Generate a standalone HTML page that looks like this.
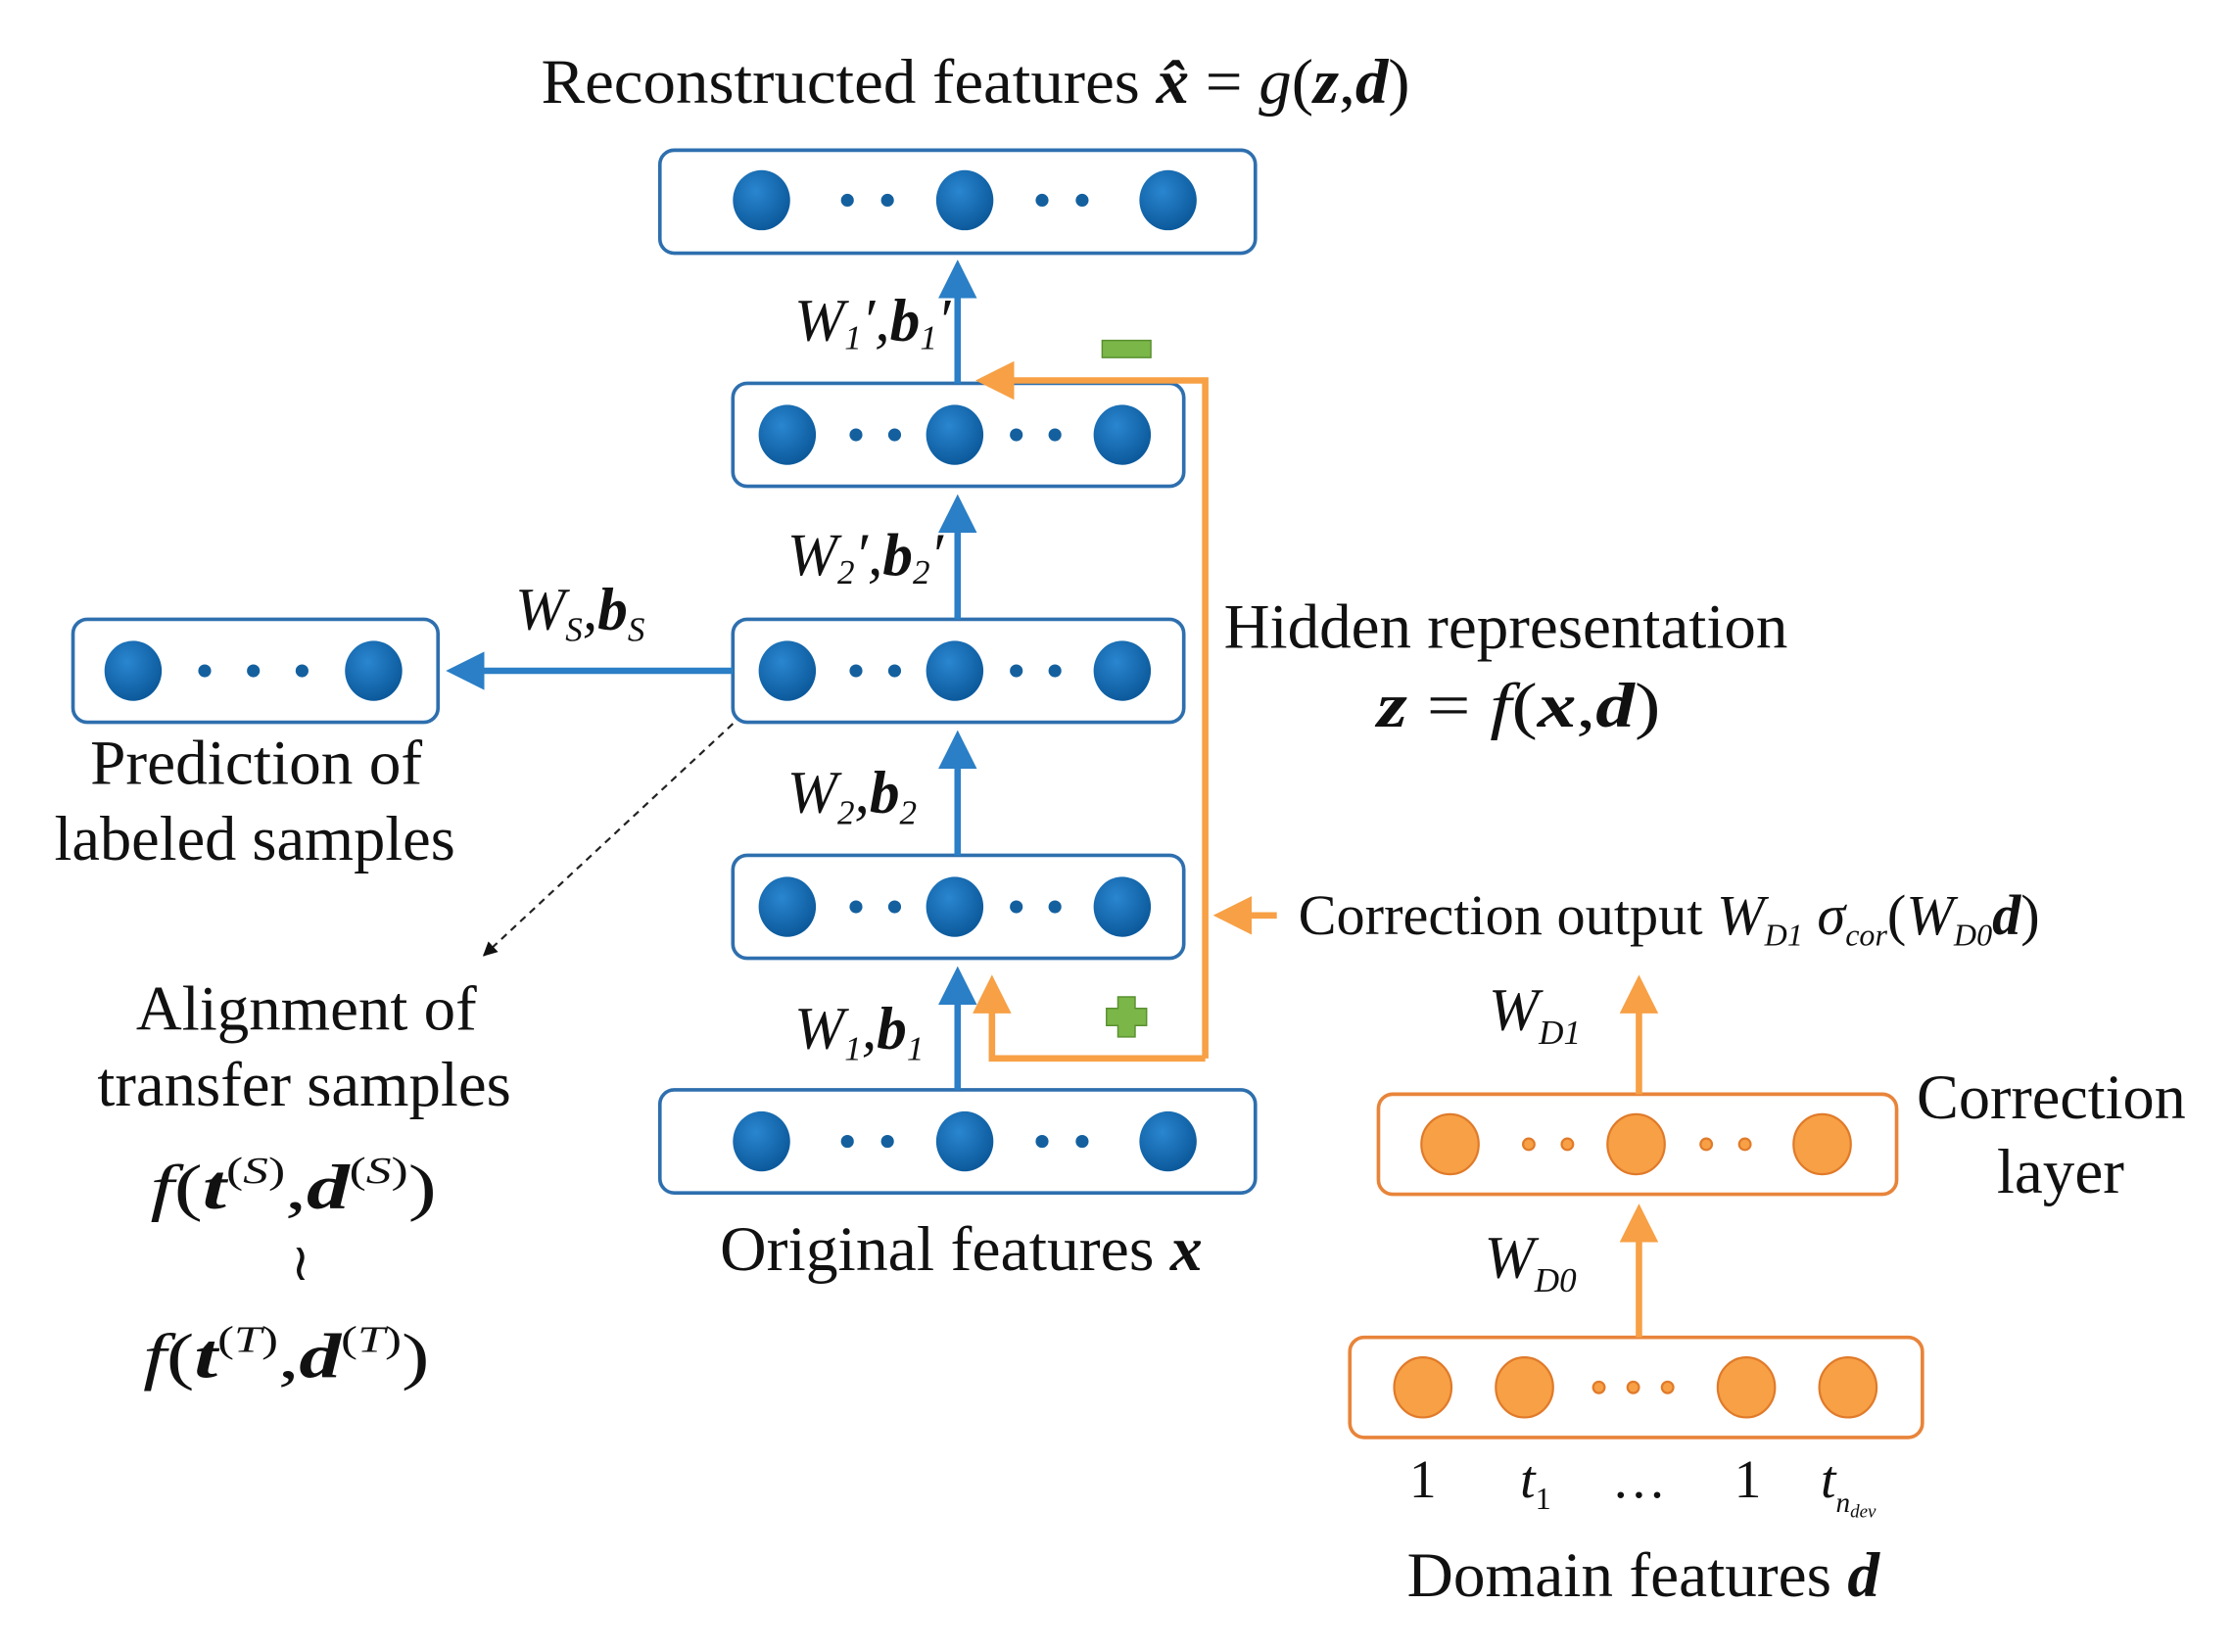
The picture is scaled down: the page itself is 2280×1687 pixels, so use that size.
<!DOCTYPE html>
<html><head><meta charset="utf-8"><style>
html,body{margin:0;padding:0;background:#fff;}
svg{display:block;}
text{font-family:"Liberation Serif",serif;fill:#111;}
.it{font-style:italic;}
.b{font-weight:bold;font-style:italic;}
</style></head><body>
<svg width="2280" height="1687" viewBox="0 0 1560 1155" preserveAspectRatio="none" xmlns="http://www.w3.org/2000/svg">
<defs>
<radialGradient id="bg" cx="40%" cy="35%" r="65%"><stop offset="0" stop-color="#2a86d0"/><stop offset="1" stop-color="#0c5a9c"/></radialGradient>
<marker id="ab" markerWidth="6" markerHeight="6" refX="5" refY="3" orient="auto" markerUnits="strokeWidth"><path d="M0,0 L6,3 L0,6 Z" fill="#2a7fc6"/></marker>
<marker id="ao" markerWidth="6" markerHeight="6" refX="5" refY="3" orient="auto" markerUnits="strokeWidth"><path d="M0,0 L6,3 L0,6 Z" fill="#f7a045"/></marker>
<marker id="ad" markerWidth="10" markerHeight="10" refX="9" refY="5" orient="auto" markerUnits="userSpaceOnUse"><path d="M0,0 L10,5 L0,10 Z" fill="#111"/></marker>
</defs>

<g fill="#fff" stroke="#2e6fae" stroke-width="2.5">
<rect x="461" y="105" width="416" height="72" rx="10"/>
<rect x="512" y="268" width="315" height="72" rx="10"/>
<rect x="512" y="433" width="315" height="72" rx="10"/>
<rect x="512" y="598" width="315" height="72" rx="10"/>
<rect x="461" y="762" width="416" height="72" rx="10"/>
<rect x="51" y="433" width="255" height="72" rx="10"/>
</g>
<g fill="url(#bg)">
<ellipse cx="532" cy="140" rx="20" ry="21"/><ellipse cx="674" cy="140" rx="20" ry="21"/><ellipse cx="816" cy="140" rx="20" ry="21"/>
<ellipse cx="550" cy="304" rx="20" ry="21"/><ellipse cx="667" cy="304" rx="20" ry="21"/><ellipse cx="784" cy="304" rx="20" ry="21"/>
<ellipse cx="550" cy="469" rx="20" ry="21"/><ellipse cx="667" cy="469" rx="20" ry="21"/><ellipse cx="784" cy="469" rx="20" ry="21"/>
<ellipse cx="550" cy="634" rx="20" ry="21"/><ellipse cx="667" cy="634" rx="20" ry="21"/><ellipse cx="784" cy="634" rx="20" ry="21"/>
<ellipse cx="532" cy="798" rx="20" ry="21"/><ellipse cx="674" cy="798" rx="20" ry="21"/><ellipse cx="816" cy="798" rx="20" ry="21"/>
<ellipse cx="93" cy="469" rx="20" ry="21"/><ellipse cx="261" cy="469" rx="20" ry="21"/>
</g>
<g fill="#14609f">
<circle cx="592" cy="140" r="4.5"/><circle cx="620" cy="140" r="4.5"/><circle cx="728" cy="140" r="4.5"/><circle cx="756" cy="140" r="4.5"/>
<circle cx="598" cy="304" r="4.5"/><circle cx="625" cy="304" r="4.5"/><circle cx="710" cy="304" r="4.5"/><circle cx="737" cy="304" r="4.5"/>
<circle cx="598" cy="469" r="4.5"/><circle cx="625" cy="469" r="4.5"/><circle cx="710" cy="469" r="4.5"/><circle cx="737" cy="469" r="4.5"/>
<circle cx="598" cy="634" r="4.5"/><circle cx="625" cy="634" r="4.5"/><circle cx="710" cy="634" r="4.5"/><circle cx="737" cy="634" r="4.5"/>
<circle cx="592" cy="798" r="4.5"/><circle cx="620" cy="798" r="4.5"/><circle cx="728" cy="798" r="4.5"/><circle cx="756" cy="798" r="4.5"/>
<circle cx="143" cy="469" r="4.5"/><circle cx="177" cy="469" r="4.5"/><circle cx="211" cy="469" r="4.5"/>
</g>
<g stroke="#2a7fc6" stroke-width="4.5" marker-end="url(#ab)">
<line x1="669" y1="762" x2="669" y2="680"/>
<line x1="669" y1="598" x2="669" y2="515"/>
<line x1="669" y1="433" x2="669" y2="350"/>
<line x1="669" y1="268" x2="669" y2="186"/>
<line x1="512" y1="469" x2="316" y2="469"/>
</g>
<line x1="512" y1="506" x2="338" y2="668" stroke="#222" stroke-width="1.5" stroke-dasharray="5,4" marker-end="url(#ad)"/>

<g fill="none" stroke="#f7a045" stroke-width="4.5">
<polyline points="842,740 842,266 686,266" marker-end="url(#ao)"/>
<polyline points="842,740 693,740 693,686" marker-end="url(#ao)"/>
<line x1="892" y1="640" x2="852" y2="640" marker-end="url(#ao)"/>
</g>
<rect x="770" y="238" width="34" height="12" fill="#7ab648" stroke="#5a9030" stroke-width="1"/>
<path d="M781,697 h12 v8 h8 v12 h-8 v8 h-12 v-8 h-8 v-12 h8 z" fill="#7ab648" stroke="#5a9030" stroke-width="1"/>

<g fill="#fff" stroke="#e8843a" stroke-width="2.5">
<rect x="963" y="765" width="362" height="70" rx="10"/>
<rect x="943" y="935" width="400" height="70" rx="10"/>
</g>
<g fill="#f7a045" stroke="#e07a2a" stroke-width="1.5">
<ellipse cx="1013" cy="800" rx="20" ry="21"/><ellipse cx="1143" cy="800" rx="20" ry="21"/><ellipse cx="1273" cy="800" rx="20" ry="21"/>
<ellipse cx="994" cy="970" rx="20" ry="21"/><ellipse cx="1065" cy="970" rx="20" ry="21"/><ellipse cx="1220" cy="970" rx="20" ry="21"/><ellipse cx="1291" cy="970" rx="20" ry="21"/>
<circle cx="1068" cy="800" r="4"/><circle cx="1095" cy="800" r="4"/><circle cx="1192" cy="800" r="4"/><circle cx="1219" cy="800" r="4"/>
<circle cx="1117" cy="970" r="4"/><circle cx="1141" cy="970" r="4"/><circle cx="1165" cy="970" r="4"/>
</g>
<g stroke="#f7a045" stroke-width="4.5" marker-end="url(#ao)">
<line x1="1145" y1="935" x2="1145" y2="846"/>
<line x1="1145" y1="765" x2="1145" y2="686"/>
</g>

<text x="378" y="72" font-size="44" textLength="607" lengthAdjust="spacingAndGlyphs">Reconstructed features <tspan class="b">x̂</tspan> = <tspan class="it">g</tspan>(<tspan class="b">z</tspan>,<tspan class="b">d</tspan>)</text>
<text x="555" y="238" font-size="42" class="it">W<tspan font-size="24" dy="6">1</tspan><tspan dy="-6">′</tspan>,<tspan class="b">b</tspan><tspan font-size="24" dy="6">1</tspan><tspan dy="-6">′</tspan></text>
<text x="550" y="402" font-size="42" class="it">W<tspan font-size="24" dy="6">2</tspan><tspan dy="-6">′</tspan>,<tspan class="b">b</tspan><tspan font-size="24" dy="6">2</tspan><tspan dy="-6">′</tspan></text>
<text x="550" y="568" font-size="42" class="it">W<tspan font-size="24" dy="8">2</tspan><tspan dy="-8">,</tspan><tspan class="b">b</tspan><tspan font-size="24" dy="8">2</tspan></text>
<text x="555" y="733" font-size="42" class="it">W<tspan font-size="24" dy="8">1</tspan><tspan dy="-8">,</tspan><tspan class="b">b</tspan><tspan font-size="24" dy="8">1</tspan></text>
<text x="360" y="440" font-size="42" class="it">W<tspan font-size="24" dy="8">S</tspan><tspan dy="-8">,</tspan><tspan class="b">b</tspan><tspan font-size="24" dy="8">S</tspan></text>
<text x="63" y="548" font-size="44" textLength="232" lengthAdjust="spacingAndGlyphs">Prediction of</text>
<text x="38" y="601" font-size="44" textLength="280" lengthAdjust="spacingAndGlyphs">labeled samples</text>
<text x="95" y="720" font-size="44" textLength="238" lengthAdjust="spacingAndGlyphs">Alignment of</text>
<text x="68" y="773" font-size="44" textLength="289" lengthAdjust="spacingAndGlyphs">transfer samples</text>
<text x="105" y="845" font-size="44" class="it" textLength="200" lengthAdjust="spacingAndGlyphs">f<tspan font-style="normal">(</tspan><tspan class="b">t</tspan><tspan font-size="26" dy="-18" font-style="normal">(</tspan><tspan font-size="26">S</tspan><tspan font-size="26" font-style="normal">)</tspan><tspan dy="18" font-style="normal">,</tspan><tspan class="b">d</tspan><tspan font-size="26" dy="-18" font-style="normal">(</tspan><tspan font-size="26">S</tspan><tspan font-size="26" font-style="normal">)</tspan><tspan dy="18" font-style="normal">)</tspan></text>
<text x="210" y="895" font-size="36" text-anchor="middle">≀</text>
<text x="100" y="963" font-size="44" class="it" textLength="200" lengthAdjust="spacingAndGlyphs">f<tspan font-style="normal">(</tspan><tspan class="b">t</tspan><tspan font-size="26" dy="-18" font-style="normal">(</tspan><tspan font-size="26">T</tspan><tspan font-size="26" font-style="normal">)</tspan><tspan dy="18" font-style="normal">,</tspan><tspan class="b">d</tspan><tspan font-size="26" dy="-18" font-style="normal">(</tspan><tspan font-size="26">T</tspan><tspan font-size="26" font-style="normal">)</tspan><tspan dy="18" font-style="normal">)</tspan></text>
<text x="503" y="888" font-size="44" textLength="337" lengthAdjust="spacingAndGlyphs">Original features <tspan class="b">x</tspan></text>
<text x="855" y="453" font-size="44" textLength="394" lengthAdjust="spacingAndGlyphs">Hidden representation</text>
<text x="962" y="508" font-size="44" textLength="198" lengthAdjust="spacingAndGlyphs"><tspan class="b">z</tspan> = <tspan class="it">f</tspan>(<tspan class="b">x</tspan>,<tspan class="b">d</tspan>)</text>
<text x="907" y="653" font-size="40" textLength="518" lengthAdjust="spacingAndGlyphs">Correction output <tspan class="it">W</tspan><tspan class="it" font-size="22" dy="8">D1</tspan><tspan class="it" dy="-8"> σ</tspan><tspan class="it" font-size="22" dy="8">cor</tspan><tspan dy="-8">(</tspan><tspan class="it">W</tspan><tspan class="it" font-size="22" dy="8">D0</tspan><tspan class="b" dy="-8">d</tspan>)</text>
<text x="1040" y="720" font-size="42" class="it">W<tspan font-size="24" dy="10">D1</tspan></text>
<text x="1037" y="893" font-size="42" class="it">W<tspan font-size="24" dy="10">D0</tspan></text>
<text x="1339" y="782" font-size="44" textLength="188" lengthAdjust="spacingAndGlyphs">Correction</text>
<text x="1395" y="834" font-size="44" textLength="89" lengthAdjust="spacingAndGlyphs">layer</text>
<text x="994" y="1047" font-size="38" text-anchor="middle">1</text>
<text x="1062" y="1047" font-size="38" class="it">t<tspan font-size="22" dy="8" font-style="normal">1</tspan></text>
<text x="1145" y="1047" font-size="38" text-anchor="middle">…</text>
<text x="1221" y="1047" font-size="38" text-anchor="middle">1</text>
<text x="1272" y="1047" font-size="38" class="it">t<tspan font-size="20" dy="10">n</tspan><tspan font-size="13" dy="4">dev</tspan></text>
<text x="983" y="1116" font-size="44" textLength="330" lengthAdjust="spacingAndGlyphs">Domain features <tspan class="b">d</tspan></text>
</svg>
</body></html>
